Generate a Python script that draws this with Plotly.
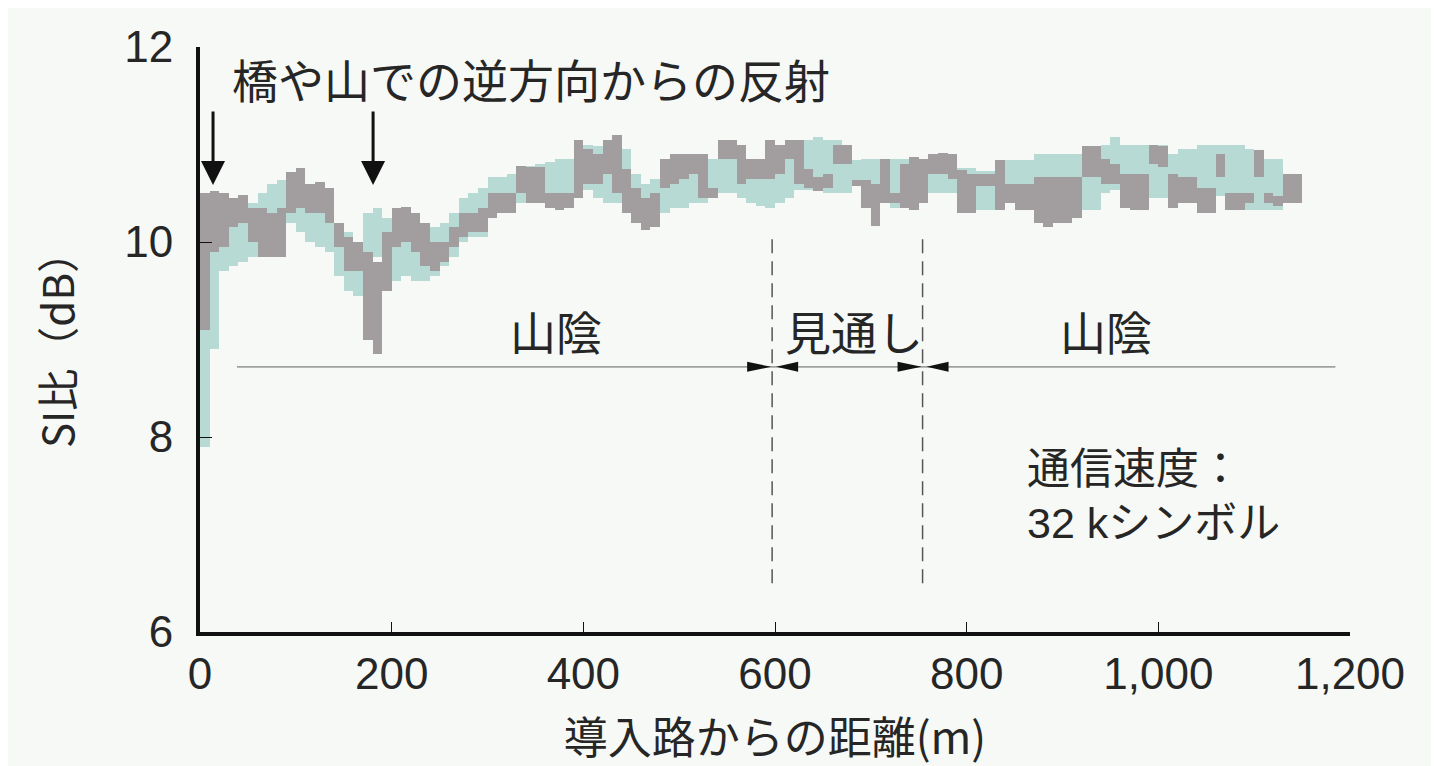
import plotly.graph_objects as go

# ---- data ----
distance_m = list(range(5, 1150, 10))  # bin centres, 10 m bins

cyan_lo = [7.90, 8.90, 9.70, 9.75, 9.80, 9.85, 9.90, 10.00, 10.20, 10.20,
           10.10, 10.00, 9.95, 9.90, 9.65, 9.50, 9.45, 9.60, 9.85, 9.70,
           9.60, 9.65, 9.60, 9.60, 9.65, 9.75, 9.85, 10.00, 10.05, 10.05,
           10.30, 10.30, 10.35, 10.40, 10.45, 10.45, 10.50, 10.50, 10.50, 10.55,
           10.53, 10.45, 10.40, 10.40, 10.30, 10.20, 10.15, 10.20, 10.30, 10.35,
           10.35, 10.40, 10.40, 10.45, 10.50, 10.50, 10.45, 10.40, 10.37, 10.35,
           10.40, 10.45, 10.53, 10.53, 10.60, 10.50, 10.50, 10.50, 10.57, 10.50,
           10.50, 10.40, 10.35, 10.35, 10.35, 10.40, 10.50, 10.50, 10.50, 10.33,
           10.33, 10.33, 10.33, 10.50, 10.53, 10.53, 10.53, 10.53, 10.53, 10.53,
           10.53, 10.53, 10.33, 10.33, 10.50, 10.53, 10.40, 10.60, 10.60, 10.45,
           10.45, 10.50, 10.50, 10.50, 10.47, 10.47, 10.47, 10.47, 10.47, 10.33,
           10.33, 10.33, 10.33, 10.40, 10.40]
cyan_hi = [10.20, 10.35, 10.33, 10.35, 10.40, 10.40, 10.50, 10.60, 10.64, 10.60,
           10.55, 10.45, 10.45, 10.40, 10.15, 10.10, 10.00, 10.30, 10.35, 10.25,
           10.30, 10.25, 10.20, 10.15, 10.15, 10.20, 10.30, 10.45, 10.50, 10.55,
           10.67, 10.67, 10.70, 10.72, 10.78, 10.80, 10.82, 10.85, 10.85, 10.95,
           11.00, 10.98, 11.00, 11.05, 10.95, 10.70, 10.60, 10.65, 10.80, 10.80,
           10.80, 10.85, 10.85, 10.85, 10.90, 10.90, 10.85, 10.85, 10.85, 10.85,
           11.00, 11.00, 11.05, 11.05, 11.08, 11.05, 11.05, 11.00, 10.84, 10.85,
           10.85, 10.85, 10.85, 10.85, 10.85, 10.85, 10.90, 10.90, 10.90, 10.76,
           10.76, 10.73, 10.73, 10.84, 10.84, 10.84, 10.84, 10.90, 10.90, 10.90,
           10.90, 10.90, 10.90, 10.90, 11.00, 11.08, 11.00, 11.00, 11.00, 11.00,
           11.00, 10.90, 10.95, 10.95, 11.00, 11.00, 11.00, 11.00, 11.00, 10.95,
           10.94, 10.85, 10.85, 10.70, 10.67]
gray_lo = [9.10, 9.90, 9.95, 10.15, 10.20, 10.00, 9.85, 9.85, 9.85, 10.30,
           10.35, 10.30, 10.30, 10.20, 9.95, 9.70, 9.70, 9.00, 8.85, 9.50,
           9.95, 10.00, 9.90, 9.75, 9.70, 9.80, 9.95, 10.05, 10.10, 10.10,
           10.25, 10.30, 10.30, 10.50, 10.40, 10.40, 10.35, 10.33, 10.35, 10.45,
           10.60, 10.60, 10.70, 10.50, 10.30, 10.20, 10.12, 10.15, 10.55, 10.60,
           10.65, 10.70, 10.45, 10.45, 10.85, 10.85, 10.60, 10.65, 10.65, 10.65,
           10.70, 10.85, 10.60, 10.55, 10.52, 10.55, 10.80, 10.80, 10.57, 10.35,
           10.16, 10.40, 10.40, 10.35, 10.33, 10.40, 10.70, 10.70, 10.65, 10.30,
           10.30, 10.57, 10.57, 10.33, 10.40, 10.33, 10.33, 10.20, 10.15, 10.20,
           10.20, 10.25, 10.67, 10.67, 10.60, 10.60, 10.35, 10.33, 10.33, 10.80,
           10.77, 10.35, 10.40, 10.40, 10.30, 10.30, 10.67, 10.33, 10.33, 10.40,
           10.67, 10.40, 10.37, 10.40, 10.40]
gray_hi = [10.50, 10.52, 10.50, 10.45, 10.48, 10.35, 10.35, 10.30, 10.35, 10.72,
           10.76, 10.60, 10.62, 10.55, 10.20, 10.05, 10.00, 9.90, 9.80, 10.10,
           10.35, 10.36, 10.30, 10.20, 10.00, 10.00, 10.15, 10.30, 10.30, 10.35,
           10.50, 10.50, 10.50, 10.78, 10.77, 10.77, 10.50, 10.50, 10.50, 11.05,
           10.95, 10.90, 11.05, 11.10, 10.75, 10.55, 10.45, 10.50, 10.85, 10.90,
           10.90, 10.90, 10.90, 10.55, 11.05, 11.05, 11.00, 10.85, 10.85, 11.05,
           11.00, 11.05, 11.05, 10.75, 10.67, 10.70, 11.00, 11.00, 10.64, 10.64,
           10.60, 10.85, 10.50, 10.80, 10.87, 10.85, 10.90, 10.91, 10.90, 10.74,
           10.70, 10.70, 10.70, 10.84, 10.60, 10.60, 10.60, 10.67, 10.67, 10.67,
           10.67, 10.67, 10.98, 10.98, 10.85, 10.80, 10.70, 10.70, 10.70, 11.00,
           10.98, 10.70, 10.67, 10.67, 10.55, 10.55, 10.90, 10.50, 10.50, 10.50,
           10.94, 10.50, 10.47, 10.70, 10.70]

x_tickvals = [0, 200, 400, 600, 800, 1000, 1200]
x_ticktext = ["0", "200", "400", "600", "800", "1,000", "1,200"]
y_tickvals = [6, 8, 10, 12]
y_ticktext = ["6", "8", "10", "12"]

zone_boundaries = [597, 754]          # m, dashed lines
zone_labels = ["山陰", "見通し", "山陰"]
zone_label_x = [371, 682, 945]
reflection_x = [13.6, 180.6]          # arrows for reflections

# ---- styles ----
BG = "#f6f9f5"
GRAY = "#a29d9e"
CYAN = "#b8dad5"
JP = "Noto Sans CJK JP"
LAT = "Liberation Sans, Arial, sans-serif"
TXT = "#262626"

cyan_h = [h - l for h, l in zip(cyan_hi, cyan_lo)]
gray_h = [h - l for h, l in zip(gray_hi, gray_lo)]

fig = go.Figure()
fig.add_trace(go.Bar(x=distance_m, y=cyan_h, base=cyan_lo, width=10,
                     marker=dict(color=CYAN, line=dict(width=0)),
                     name="cyan", showlegend=False))
fig.add_trace(go.Bar(x=distance_m, y=gray_h, base=gray_lo, width=10,
                     marker=dict(color=GRAY, line=dict(width=0)),
                     name="gray", showlegend=False))

LINE_Y = 8.72
shapes = [
    dict(type="line", xref="x", yref="y", x0=38.6, x1=1184.7, y0=LINE_Y, y1=LINE_Y,
         line=dict(color="#a0a0a0", width=1.8)),
]
for b in zone_boundaries:
    shapes.append(dict(type="line", xref="x", yref="y", x0=b, x1=b, y0=6.5, y1=10.05,
                       line=dict(color="#555555", width=1.5, dash="14px,8px")))
    shapes.append(dict(type="path", xref="x", yref="y", xsizemode="pixel", ysizemode="pixel",
                       xanchor=b, yanchor=LINE_Y,
                       path="M -1 0 L -25 -5 L -25 5 Z",
                       fillcolor="#111111", line=dict(width=0)))
    shapes.append(dict(type="path", xref="x", yref="y", xsizemode="pixel", ysizemode="pixel",
                       xanchor=b, yanchor=LINE_Y,
                       path="M 4 0 L 26 -5 L 26 5 Z",
                       fillcolor="#111111", line=dict(width=0)))

annotations = [
    dict(x=31, y=11.68, xref="x", yref="y", text="橋や山での逆方向からの反射",
         showarrow=False, xanchor="left", yanchor="middle",
         font=dict(family=JP, size=46, color=TXT)),
    dict(x=861, y=7.71, xref="x", yref="y", text="通信速度：",
         showarrow=False, xanchor="left", yanchor="middle",
         font=dict(family=JP, size=43, color=TXT)),
    dict(x=861, y=7.12, xref="x", yref="y", text="32 kシンボル",
         showarrow=False, xanchor="left", yanchor="middle",
         font=dict(family="Liberation Sans, " + JP, size=43, color=TXT)),
]
for lx, lt in zip(zone_label_x, zone_labels):
    annotations.append(dict(x=lx, y=9.1, xref="x", yref="y", text=lt, showarrow=False,
                            xanchor="center", yanchor="middle",
                            font=dict(family=JP, size=46, color=TXT)))
for rx in reflection_x:
    annotations.append(dict(x=rx, y=10.585, ax=rx, ay=11.354, xref="x", yref="y",
                            axref="x", ayref="y", text="", showarrow=True,
                            arrowhead=2, arrowsize=1.6, arrowwidth=3, arrowcolor="#111111"))

fig.update_layout(
    width=1439, height=766,
    margin=dict(l=192, r=97, t=39, b=142),
    paper_bgcolor=BG, plot_bgcolor=BG,
    barmode="overlay", bargap=0,
    shapes=shapes, annotations=annotations,
    showlegend=False,
    xaxis=dict(range=[0, 1200], tickvals=x_tickvals, ticktext=x_ticktext,
               ticks="inside", ticklen=10, tickwidth=1.2, tickcolor="#111",
               showline=True, linewidth=4, linecolor="#111", mirror=False,
               showgrid=False, zeroline=False,
               tickfont=dict(family=LAT, size=44, color=TXT),
               title=dict(text="導入路からの距離(m)", standoff=27,
                          font=dict(family=JP, size=44, color=TXT))),
    yaxis=dict(range=[6, 12], tickvals=y_tickvals, ticktext=y_ticktext,
               ticks="inside", ticklen=12, tickwidth=1.2, tickcolor="#111",
               showline=True, linewidth=4, linecolor="#111",
               showgrid=False, zeroline=False, ticklabelstandoff=14,
               tickfont=dict(family=LAT, size=44, color=TXT),
               title=dict(text="SI比（dB）", standoff=38,
                          font=dict(family=JP, size=42, color=TXT))),
)

fig.write_html("out.html")
